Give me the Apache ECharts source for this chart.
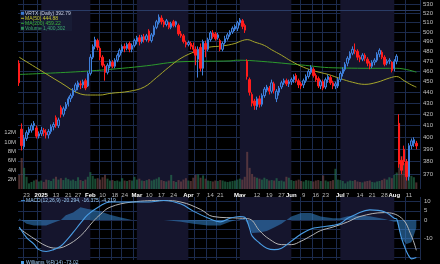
<!DOCTYPE html>
<html><head><meta charset="utf-8">
<script src="https://cdn.jsdelivr.net/npm/echarts@6.0.0/dist/echarts.min.js"></script>
<style>html,body{margin:0;padding:0;background:#000}#c{width:440px;height:264px}</style>
</head><body><div id="c"></div>
<script>
// ---------- categories ----------
const holidays = ['2024-12-25','2025-01-01','2025-01-09','2025-01-20','2025-02-17','2025-04-18','2025-05-26','2025-06-19','2025-07-04'];
function buildDates(){
  const out=[]; let t=Date.UTC(2024,11,18); const end=Date.UTC(2025,7,15);
  while(t<=end){ const d=new Date(t); const wd=d.getUTCDay(); const s=d.toISOString().slice(0,10);
    if(wd!==0&&wd!==6&&holidays.indexOf(s)<0) out.push(s); t+=86400000; }
  return out;
}
const dates = buildDates();
const tickDates = ['2024-12-23','2025-01-02','2025-01-13','2025-01-21','2025-01-27','2025-02-03','2025-02-10','2025-02-18','2025-02-24','2025-03-03','2025-03-10','2025-03-17','2025-03-24','2025-04-01','2025-04-07','2025-04-14','2025-04-21','2025-05-01','2025-05-12','2025-05-19','2025-05-27','2025-06-02','2025-06-09','2025-06-16','2025-06-23','2025-07-01','2025-07-07','2025-07-14','2025-07-21','2025-07-28','2025-08-01','2025-08-11'];
const priceTicks = [370,380,390,400,410,420,430,440,450,460,470,480,490,500,510,520,530];
const volTicks = [2e6,4e6,6e6,8e6,10e6,12e6];
const macdTicks = [-20,-15,-10,-5,0,5,10];

// ---------- price (Dec 18 2024 .. Aug 14 2025) ----------
const opens = [468,407,392,399,404,406,410,408,401,403,406,404,402,405,409,417,410,426,420,425,429,434,437,442,445,448,447,451,446,
458,474,485,491,483,474,465,459,465,469,465,471,476,480,485,483,488,482,486,
490,494,490,495,492,501,491,497,505,510,515,511,508,510,505,511,508,507,498,496,489,
487,488,486,482,472,484,463,488,482,492,499,498,494,491,482,489,493,497,500,503,504,
510,512,507,470,452,438,432,427,434,429,437,442,444,441,448,434,440,445,449,451,448,
450,452,456,451,448,447,451,455,459,462,456,453,446,450,445,452,454,449,446,446,
452,458,462,468,473,478,481,480,474,472,476,472,468,465,469,471,477,479,474,468,470,469,
463,470,412,381,390,380,368,393,395,395];
const closes = [449,393,399,404,407,410,412,401,403,406,404,402,405,409,411,410,415,420,425,429,434,437,442,447,449,447,450,444,458,
474,485,492,484,474,466,459,466,470,465,471,476,481,485,483,487,482,486,491,
494,490,495,492,496,491,497,505,511,516,511,508,512,505,509,507,511,498,496,490,487,
489,485,482,476,482,463,490,482,492,499,495,493,497,482,488,493,497,500,504,506,510,
513,506,502,455,440,430,428,434,429,437,443,445,441,449,442,441,444,449,451,448,450,
452,455,451,447,446,451,455,460,464,456,452,446,450,444,452,455,449,446,448,452,
458,462,467,473,478,482,480,474,472,476,473,468,465,469,471,477,481,474,467,470,471,461,
470,475,378,373,380,368,393,397,398,392.79];
const lows = [446,389,390,397,402,404,406,399,399,401,401,399,399,403,406,408,408,417,418,423,427,431,435,440,442,443,444,442,445,
456,472,482,481,471,464,451,457,463,463,463,469,474,478,479,481,479,479,484,
487,486,488,489,490,489,489,495,503,508,508,505,506,503,503,505,505,496,494,488,484,
485,482,478,466,454,460,456,474,480,490,493,491,492,480,480,487,491,495,498,501,501,
507,503,499,452,437,427,424,424,426,427,435,440,438,439,439,431,437,443,447,446,445,
447,449,449,444,443,444,449,453,457,454,450,444,443,442,443,449,447,443,443,444,
450,455,460,465,471,476,477,471,469,470,470,465,462,463,466,469,474,472,465,466,467,459,
460,467,375,370,377,365,365,390,392,390];
const highs = [471,412,402,406,409,412,414,410,405,409,408,407,407,411,413,419,417,428,427,431,436,439,444,449,451,451,452,453,460,
477,487,495,493,485,476,467,468,472,471,473,478,483,487,488,489,490,488,493,
496,497,497,498,498,503,499,507,513,519,518,513,514,511,511,513,512,509,501,498,491,
491,490,489,485,485,488,492,491,494,501,502,500,499,493,490,496,499,502,506,508,512,
515,514,509,472,454,440,434,436,437,439,445,447,446,452,450,443,446,451,453,453,452,
454,457,458,453,450,453,457,462,466,464,458,455,452,452,454,457,456,451,450,454,
460,464,469,475,480,485,488,482,476,478,478,474,470,471,473,479,483,481,476,472,473,470,
472,477,420,384,393,382,395,399,400,397];
const volumes = [3.0,6.6,4.5,2.6,1.2,1.5,1.8,2.0,1.6,1.8,1.5,2.0,1.9,1.7,2.2,2.6,2.0,2.3,1.9,2.4,2.1,1.8,2.0,1.7,2.5,1.9,1.7,2.0,2.6,
3.6,2.8,2.2,2.3,2.0,2.5,3.0,2.2,1.8,1.9,1.7,1.8,1.6,2.3,1.8,1.7,1.9,1.8,2.6,
2.0,2.2,1.8,1.7,1.9,2.1,1.8,2.0,2.2,2.5,1.9,1.7,1.6,1.8,3.0,1.7,1.5,1.9,1.6,2.0,2.3,
1.8,1.7,2.4,3.0,3.1,2.4,2.9,2.2,1.8,1.7,1.6,1.8,1.7,1.9,1.8,1.6,1.5,1.6,1.7,1.8,2.0,
2.2,2.0,2.6,7.9,4.5,3.2,2.6,2.4,2.2,2.0,2.4,2.1,1.8,1.9,1.8,2.3,1.7,1.8,1.6,2.6,2.4,
1.9,1.7,1.8,2.0,1.7,1.6,1.9,1.8,1.7,1.6,1.8,1.9,1.7,2.9,1.8,1.6,1.7,1.9,4.3,2.0,
1.9,1.7,1.2,1.6,1.8,1.7,1.9,1.6,1.5,1.4,1.6,1.7,1.8,1.5,1.4,1.6,1.7,1.9,2.2,2.0,2.5,2.3,
3.0,3.5,14.0,7.0,5.5,5.0,4.0,2.8,2.5,1.400302];

// ---------- moving averages ----------
const ma50Dates = ['2024-12-18','2024-12-31','2025-01-15','2025-01-28','2025-02-03','2025-02-07','2025-02-13','2025-02-26','2025-03-06','2025-03-13','2025-03-20','2025-03-27','2025-04-04','2025-04-11','2025-04-22','2025-04-29','2025-05-02','2025-05-06','2025-05-09','2025-05-15','2025-05-20','2025-05-27','2025-06-02','2025-06-09','2025-06-16','2025-06-24','2025-07-01','2025-07-09','2025-07-16','2025-07-23','2025-07-30','2025-08-04','2025-08-07','2025-08-12','2025-08-14'];
const ma50Values = [474,462,449,438.5,437.5,437.5,439,441,445,454,464,473,480,484,485.5,488,491,492,489.5,486,481.5,476,470,464,460,457,453,449.5,447.5,449.5,453.5,455,451,447,444.88];
const ma200Dates = ['2024-12-18','2025-01-28','2025-02-21','2025-03-07','2025-03-27','2025-04-25','2025-04-30','2025-05-14','2025-06-06','2025-06-26','2025-07-25','2025-08-04','2025-08-14'];
const ma200Values = [457,459.8,463,465.5,469.5,470.3,471,469.8,466.3,463.5,463,463,459.22];

// ---------- MACD ----------
const macdDates = ['2024-12-18','2024-12-23','2024-12-27','2024-12-31','2025-01-06','2025-01-10','2025-01-15','2025-01-17','2025-01-23','2025-01-28','2025-01-31','2025-02-07','2025-02-13','2025-02-27','2025-03-10','2025-03-18','2025-03-27','2025-04-03','2025-04-11','2025-04-21','2025-04-25','2025-05-01','2025-05-05','2025-05-07','2025-05-08','2025-05-13','2025-05-16','2025-05-21','2025-05-27','2025-06-02','2025-06-06','2025-06-12','2025-06-18','2025-06-26','2025-07-01','2025-07-07','2025-07-10','2025-07-18','2025-07-28','2025-08-01','2025-08-04','2025-08-05','2025-08-06','2025-08-08','2025-08-11','2025-08-12','2025-08-14'];
const macdValues = [-3.8,-9.5,-13,-16,-17,-16,-14,-11.4,-6.7,-1.7,2.9,7.6,9.7,9.7,9.7,10.5,8.6,4.8,1.1,-1,1,1.9,1.5,-4.6,-8.6,-12.4,-15.2,-16,-15.2,-11.4,-7.6,-4.8,-3.8,-2.9,-1.9,1,2.9,5.5,4.5,1,0.5,-4.6,-10,-17,-19.5,-21,-20.294];
const signalDates = ['2024-12-18','2024-12-27','2025-01-06','2025-01-13','2025-01-17','2025-01-28','2025-02-04','2025-02-07','2025-02-13','2025-02-27','2025-03-18','2025-03-27','2025-04-08','2025-04-15','2025-05-01','2025-05-07','2025-05-13','2025-05-19','2025-05-27','2025-06-02','2025-06-06','2025-06-12','2025-06-18','2025-06-26','2025-07-07','2025-07-14','2025-07-28','2025-08-06','2025-08-12','2025-08-14'];
const signalValues = [-4.6,-10,-14,-15.2,-14,-8.6,-1,2.9,6.9,9.7,10.5,9.7,5.7,1.9,1,0.5,-5.7,-10.3,-13.3,-13.3,-11.4,-8.6,-5.7,-3.8,-1,1.9,4,1,-8.6,-16.375];
const histDates = ['2024-12-18','2024-12-23','2024-12-27','2024-12-31','2025-01-06','2025-01-13','2025-01-15','2025-01-17','2025-01-23','2025-01-28','2025-01-31','2025-02-04','2025-02-07','2025-02-13','2025-02-20','2025-02-27','2025-03-10','2025-03-18','2025-03-27','2025-04-03','2025-04-11','2025-04-21','2025-04-25','2025-05-01','2025-05-05','2025-05-07','2025-05-08','2025-05-13','2025-05-16','2025-05-21','2025-05-27','2025-06-02','2025-06-06','2025-06-12','2025-06-18','2025-06-26','2025-07-01','2025-07-07','2025-07-10','2025-07-18','2025-07-28','2025-08-01','2025-08-04','2025-08-05','2025-08-06','2025-08-08','2025-08-12','2025-08-14'];
const histValues = [0.8,-2,-3,-3,-3,-1,0,2.6,4,6.9,6,5.5,4.7,2.8,1.5,0,0,0,-1,-2,-3,-3,-1,0.5,0.5,-4,-7,-6.7,-6,-4,-2,1.9,3.8,3.8,1.9,0.9,0.9,2,2.5,2,0.5,-1,-1,-5,-10,-13,-12,-4.219];

const lastClose = 392.79, lastMA50 = 444.88, lastMA200 = 459.22, lastVol = 1400302;
const lastMacd = -20.294, lastSignal = -16.375, lastHist = -4.219;

// ---------- build ----------
const MONTHS=['Jan','Feb','Mar','Apr','May','Jun','Jul','Aug','Sep','Oct','Nov','Dec'];
function isMonthStart(s){ const i=dates.indexOf(s); return i>0 && dates[i-1].slice(5,7)!==s.slice(5,7); }
function tickLabel(s){
  if(s==='2025-01-02') return '{b|2025}';
  if(isMonthStart(s)) return '{b|'+MONTHS[+s.slice(5,7)-1]+'}';
  return String(+s.slice(8,10));
}
const tickSet = new Set(tickDates);
const candleData = opens.map((o,i)=>[o,closes[i],lows[i],highs[i]]);
const volData = volumes.map((v,i)=>({value:v*1e6, itemStyle:{color: closes[i]>=opens[i] ? 'rgba(38,120,80,0.62)' : 'rgba(120,72,72,0.62)'}}));
const pairs=(d,v)=>d.map((x,i)=>[x,v[i]]);

// month bands (Jan, Mar, May, Jul shaded)
const bands=[];
for(let i=1;i<dates.length;i++){
  if(dates[i].slice(5,7)!==dates[i-1].slice(5,7)){
    const m=+dates[i].slice(5,7);
    if(m%2===1){ let j=i; while(j<dates.length && dates[j].slice(5,7)===dates[i].slice(5,7)) j++;
      bands.push([{xAxis:i-0.5},{xAxis:j-0.5}]); }
  }
}
const BAND='#15152d', GRIDC='#1c2b4d';
const F='Liberation Sans';
const tag=(txt,bg,fg,bc)=>({show:true,position:'end',distance:1,formatter:txt,backgroundColor:bg,color:fg,borderColor:bc||bg,borderWidth:bc?1:0,padding:[1,1,0,1],fontSize:6,fontFamily:F});
const ml=(val,lab)=>({silent:true,symbol:['none','none'],lineStyle:{opacity:0},data:[{yAxis:val,label:lab}]});

const chart = echarts.init(document.getElementById('c'));
chart.setOption({
  backgroundColor:'#000', animation:false,
  grid:[{left:18,right:20,top:0,height:189},{left:18,right:20,top:197,height:63}],
  xAxis:[
    {type:'category',gridIndex:0,data:dates,boundaryGap:true,axisLine:{show:false},axisTick:{show:false},
     axisLabel:{interval:(i,v)=>tickSet.has(v),formatter:v=>tickLabel(v),color:'#b8b8b8',fontSize:6,fontFamily:F,margin:3,
       rich:{b:{fontWeight:'bold',color:'#ffffff',fontSize:6,fontFamily:F}}},
     splitLine:{show:true,interval:(i,v)=>tickSet.has(dates[i+1]),lineStyle:{color:GRIDC,width:1}}},
    {type:'category',gridIndex:1,data:dates,boundaryGap:true,axisLine:{show:false},axisTick:{show:false},axisLabel:{show:false},
     splitLine:{show:true,interval:(i,v)=>tickSet.has(dates[i+1]),lineStyle:{color:GRIDC,width:1}}}
  ],
  yAxis:[
    {type:'log',gridIndex:0,position:'right',min:358.5,max:535.1,axisLine:{show:false},
     axisTick:{show:false,customValues:priceTicks},
     axisLabel:{customValues:priceTicks,color:'#c0c0c0',fontSize:6,fontFamily:F,margin:3},
     splitLine:{show:true,lineStyle:{color:GRIDC,width:1}}},
    {type:'value',gridIndex:0,position:'left',min:0,max:40.2e6,axisLine:{show:false},
     axisTick:{show:false,customValues:volTicks},
     axisLabel:{customValues:volTicks,formatter:v=>(v/1e6)+'M',color:'#c0c0c0',fontSize:6,fontFamily:F,margin:2},
     splitLine:{show:false}},
    {type:'value',gridIndex:1,position:'right',min:-21.6,max:12.43,axisLine:{show:false},
     axisTick:{show:false,customValues:macdTicks},
     axisLabel:{customValues:[-10,0,5,10],color:'#c0c0c0',fontSize:6,fontFamily:F,margin:4},
     splitLine:{show:true,lineStyle:{color:GRIDC,width:1}}}
  ],
  series:[
    {type:'line',xAxisIndex:0,yAxisIndex:1,data:[],z:0,silent:true,
     markArea:{silent:true,itemStyle:{color:BAND},data:bands}},
    {type:'line',xAxisIndex:1,yAxisIndex:2,data:[],z:0,silent:true,
     markArea:{silent:true,itemStyle:{color:BAND},data:bands}},
    {name:'Volume',type:'bar',xAxisIndex:0,yAxisIndex:1,data:volData,barCategoryGap:'18%',z:2,
     markLine:ml(lastVol,tag('1400302','#0b1a33','#d0d8e8','#3a68b0'))},
    {name:'MA200',type:'line',xAxisIndex:0,yAxisIndex:0,data:pairs(ma200Dates,ma200Values),smooth:0.4,symbol:'none',
     lineStyle:{color:'#2c9a2c',width:1},z:3,markLine:ml(lastMA200,tag('459.22','#0d260d','#e8e8e8','#2c9a2c'))},
    {name:'MA50',type:'line',xAxisIndex:0,yAxisIndex:0,data:pairs(ma50Dates,ma50Values),smooth:0.4,symbol:'none',
     lineStyle:{color:'#a6a62a',width:1},z:3,markLine:ml(lastMA50,tag('444.88','#26260a','#e8e8e8','#a6a62a'))},
    {name:'VRTX',type:'candlestick',xAxisIndex:0,yAxisIndex:0,data:candleData,barWidth:'80%',z:4,
     itemStyle:{color:'rgba(18,34,70,0.9)',color0:'#ff1c1c',borderColor:'#3f80dc',borderColor0:'#ff1c1c',borderWidth:1},
     markLine:ml(lastClose,tag('392.79','#dde4ee','#000'))},
    {name:'Hist',type:'line',xAxisIndex:1,yAxisIndex:2,data:pairs(histDates,histValues),symbol:'none',
     lineStyle:{width:0},areaStyle:{color:'rgba(52,130,200,0.8)',origin:0},z:2,
     markLine:ml(lastHist,tag('-4.219','#3f86c8','#fff'))},
    {name:'Signal',type:'line',xAxisIndex:1,yAxisIndex:2,data:pairs(signalDates,signalValues),smooth:0.4,symbol:'none',
     lineStyle:{color:'#b4b4b4',width:1},z:3,markLine:ml(lastSignal,tag('-16.375','#c8c8c8','#000'))},
    {name:'MACD',type:'line',xAxisIndex:1,yAxisIndex:2,data:pairs(macdDates,macdValues),smooth:0.4,symbol:'none',
     lineStyle:{color:'#4a9ee6',width:1.1},z:4,markLine:ml(lastMacd,tag('-20.294','#8cc0ee','#000'))}
  ],
  graphic:[
    {type:'line',shape:{x1:20,y1:10.5,x2:420,y2:10.5},style:{stroke:'#2a3c66',lineWidth:1},z:50},
    {type:'rect',shape:{x:20,y:11,width:52,height:20},style:{fill:'rgba(28,34,60,0.55)'},z:50},
    {type:'rect',shape:{x:21,y:11.8,width:3,height:3},style:{fill:'#3b7bd6'},z:51},
    {type:'text',x:25,y:13.4,style:{text:'VRTX (Daily) 392.79',fill:'#c8d0e6',font:'5px '+F,verticalAlign:'middle'},z:51},
    {type:'rect',shape:{x:21,y:17.8,width:3,height:1},style:{fill:'#b8b82c'},z:51},
    {type:'text',x:25,y:18.4,style:{text:'MA(50) 444.88',fill:'#c8c832',font:'5px '+F,verticalAlign:'middle'},z:51},
    {type:'rect',shape:{x:21,y:22.8,width:3,height:1},style:{fill:'#32a832'},z:51},
    {type:'text',x:25,y:23.4,style:{text:'MA(200) 459.22',fill:'#3cb43c',font:'5px '+F,verticalAlign:'middle'},z:51},
    {type:'rect',shape:{x:21,y:26.8,width:3,height:3},style:{fill:'#2e8a5a'},z:51},
    {type:'text',x:25,y:28.4,style:{text:'Volume 1,400,302',fill:'#3ca870',font:'5px '+F,verticalAlign:'middle'},z:51},
    {type:'rect',shape:{x:21,y:200.2,width:4,height:1},style:{fill:'#4a9ee6'},z:51},
    {type:'text',x:26,y:200.8,style:{text:'MACD(12,26,9) -20.294, -16.375, -4.219',fill:'#9cc8f0',font:'5px '+F,verticalAlign:'middle'},z:51},
    {type:'rect',shape:{x:21,y:261,width:3,height:3},style:{fill:'#4a9ee6'},z:51},
    {type:'text',x:26,y:262.5,style:{text:'Williams %R(14) -73.02',fill:'#9cc8f0',font:'5px '+F,verticalAlign:'middle'},z:51}
  ]
});
</script></body></html>
